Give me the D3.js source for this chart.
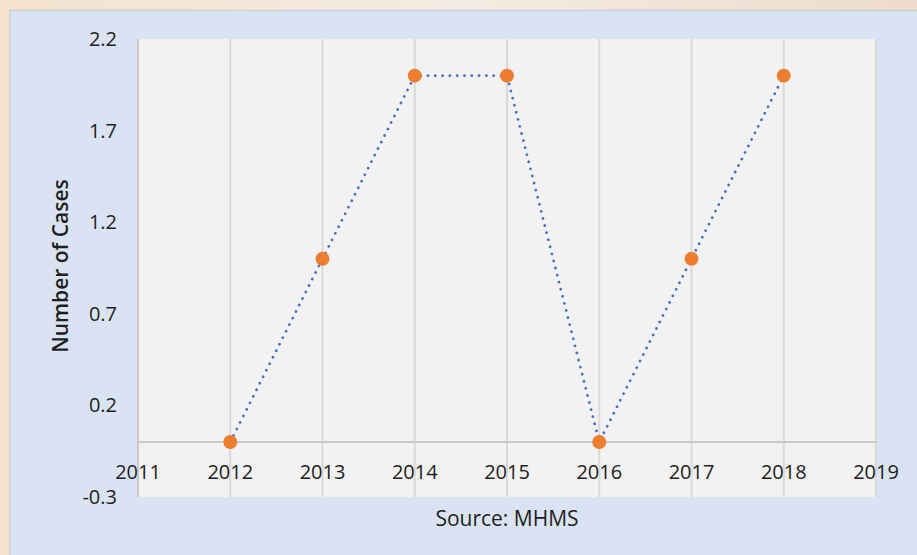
<!DOCTYPE html>
<html>
<head>
<meta charset="utf-8">
<script src="https://cdn.jsdelivr.net/npm/d3@7"></script>
<style>
body { margin: 0; background: #f1e6d8; }
svg { display: block; }
text { font-family: "Open Sans", "Noto Sans", sans-serif; fill: #1f1f1f; }
</style>
</head>
<body>
<div id="chart"></div>
<script>
// data
var years = [2012, 2013, 2014, 2015, 2016, 2017, 2018];
var cases = [0, 1, 2, 2, 0, 1, 2];
var xTicks = [2011, 2012, 2013, 2014, 2015, 2016, 2017, 2018, 2019];
var yTicks = [-0.3, 0.2, 0.7, 1.2, 1.7, 2.2];

var W = 917, H = 555;
var margin = {top: 39, right: 41, bottom: 58, left: 138},
    width = W - margin.left - margin.right,
    height = H - margin.top - margin.bottom;

var svg = d3.select("#chart").append("svg")
    .attr("width", W)
    .attr("height", H);

// warm blurred backdrop
var defs = svg.append("defs");
var grad = defs.append("linearGradient").attr("id", "bg").attr("x1", 0).attr("x2", 1);
grad.append("stop").attr("offset", "0%").attr("stop-color", "#f3e2cf");
grad.append("stop").attr("offset", "50%").attr("stop-color", "#f4ebe2");
grad.append("stop").attr("offset", "100%").attr("stop-color", "#eddccb");
svg.append("rect").attr("width", W).attr("height", H).attr("fill", "url(#bg)");

// blue panel
svg.append("rect")
    .attr("x", 10).attr("y", 10.5)
    .attr("width", W).attr("height", H)
    .attr("fill", "#dae3f3")
    .attr("stroke", "#d0d0d0")
    .attr("stroke-width", 1.5);

var g = svg.append("g")
    .attr("transform", "translate(" + margin.left + "," + margin.top + ")");

var x = d3.scaleLinear().domain([2011, 2019]).range([0, width]);
var y = d3.scaleLinear().domain([-0.3, 2.2]).range([height, 0]);

// plot area
g.append("rect")
    .attr("width", width).attr("height", height)
    .attr("fill", "#f2f2f2");

// vertical grid
g.selectAll(".vgrid")
    .data(xTicks)
  .enter().append("line")
    .attr("class", "vgrid")
    .attr("x1", function(d) { return x(d); })
    .attr("x2", function(d) { return x(d); })
    .attr("y1", 0).attr("y2", height)
    .attr("stroke", "#d9d9d9")
    .attr("stroke-width", 2);

// y axis line
g.append("line")
    .attr("x1", 0).attr("x2", 0)
    .attr("y1", 0).attr("y2", height)
    .attr("stroke", "#c8c8c8")
    .attr("stroke-width", 2);

// x axis at zero
g.append("line")
    .attr("x1", 0).attr("x2", width)
    .attr("y1", y(0)).attr("y2", y(0))
    .attr("stroke", "#c8c8c8")
    .attr("stroke-width", 2);

// y tick labels
g.selectAll(".ylab")
    .data(yTicks)
  .enter().append("text")
    .attr("class", "ylab")
    .attr("x", -21)
    .attr("y", function(d) { return y(d); })
    .attr("dy", "0.35em")
    .attr("text-anchor", "end")
    .style("font-size", "20px")
    .text(function(d) { return d3.format(".1f")(d).replace("\u2212", "-"); });

// x tick labels
g.selectAll(".xlab")
    .data(xTicks)
  .enter().append("text")
    .attr("class", "xlab")
    .attr("x", function(d) { return x(d); })
    .attr("y", y(0) + 30)
    .attr("dy", "0.35em")
    .attr("text-anchor", "middle")
    .style("font-size", "20px")
    .text(function(d) { return d; });

// dotted line
var line = d3.line()
    .x(function(d, i) { return x(years[i]); })
    .y(function(d) { return y(d); });

g.append("path")
    .attr("d", line(cases))
    .attr("fill", "none")
    .attr("stroke", "#4472c4")
    .attr("stroke-width", 2.75)
    .attr("stroke-linecap", "round")
    .attr("stroke-dasharray", "0.1 7.2");

// markers
g.selectAll(".dot")
    .data(cases)
  .enter().append("circle")
    .attr("class", "dot")
    .attr("cx", function(d, i) { return x(years[i]); })
    .attr("cy", function(d) { return y(d); })
    .attr("r", 7)
    .attr("fill", "#ed7d31");

// axis titles
svg.append("text")
    .attr("transform", "translate(68," + 266 + ") rotate(-90)")
    .attr("text-anchor", "middle")
    .style("font-size", "21px")
    .style("font-weight", "600")
    .text("Number of Cases");

svg.append("text")
    .attr("x", margin.left + width / 2)
    .attr("y", 519)
    .attr("dy", "0.35em")
    .attr("text-anchor", "middle")
    .style("font-size", "21px")
    .text("Source: MHMS");
</script>
</body>
</html>
